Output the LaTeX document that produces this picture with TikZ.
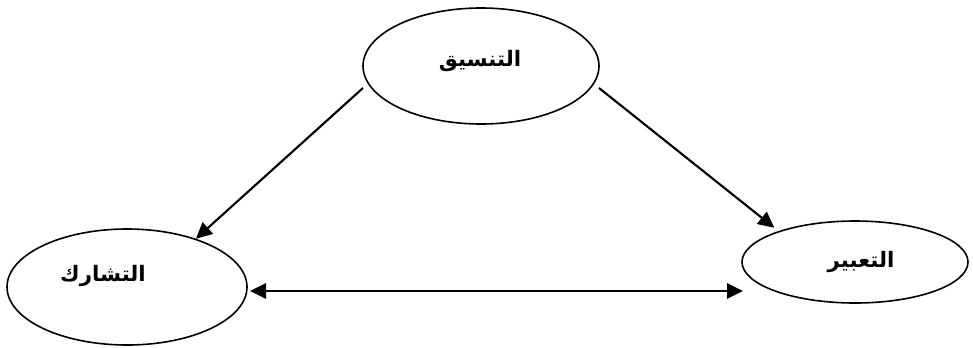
\documentclass[tikz,border=0pt]{standalone}
\usepackage{fontspec}
\newfontfamily\arabicfont[Script=Arabic]{DejaVu Sans}
\TeXXeTstate=1
\usetikzlibrary{shapes.geometric,arrows.meta}

\begin{document}
\begin{tikzpicture}[x=0.75pt, y=-0.75pt, >={Triangle[length=12pt, width=11.5pt]},
    oval/.style={draw, ellipse, line width=1.2pt, inner sep=0pt},
    word/.style={font=\arabicfont\bfseries\fontsize{16}{19}\selectfont},
    link/.style={->, line width=1.6pt}]
    \useasboundingbox (0,0) rectangle (973,347);
    % the three ellipses
    \node[oval, minimum width=177pt, minimum height=87pt] (tansiq) at (481,66) {};
    \node[oval, minimum width=180pt, minimum height=87pt] (tasharuk) at (127,287) {};
    \node[oval, minimum width=169.5pt, minimum height=61.5pt] (tabir) at (855,262) {};
    \node[word] (tansiqtxt) at (480,61) {\beginR التنسيق\endR};
    \node[word] (tasharuktxt) at (103,276) {\beginR التشارك\endR};
    \node[word] (tabirtxt) at (861,262) {\beginR التعبير\endR};
    % arrow ends
    \coordinate (fromleft) at (363,88);
    \coordinate (fromright) at (599,88);
    \coordinate (baseL) at (250,291);
    \coordinate (baseR) at (743,291);
    \draw[link] (fromleft) -- (tasharuk.35);
    \draw[link, shorten >=4pt] (fromright) -- (tabir.158);
    \draw[link, <->] (baseL) -- (baseR);
\end{tikzpicture}
\end{document}
